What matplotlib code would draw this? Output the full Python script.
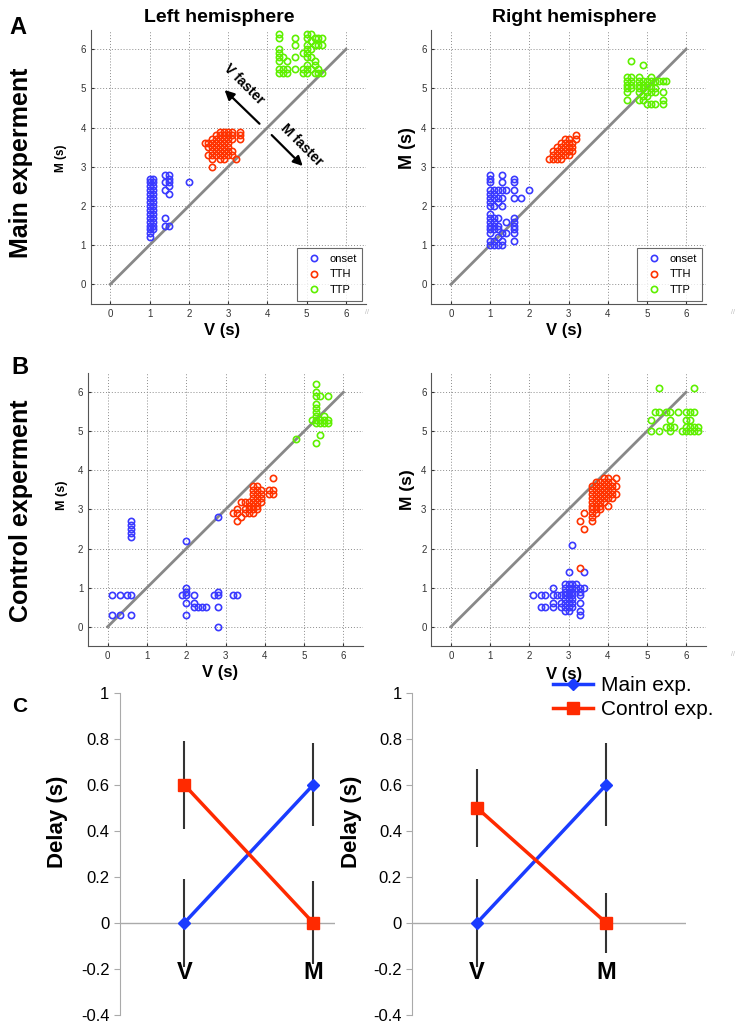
import numpy as np
import matplotlib
matplotlib.use('Agg')
from matplotlib import pyplot as plt

plt.rcParams['font.family'] = ['Liberation Sans', 'DejaVu Sans']

# scatter clusters: key = V latency (s), values = M latencies (s) at that V
# A, left hemisphere
a_left_onset = {1.0: [1.2, 1.3, 1.4, 1.5, 1.6, 1.7, 1.8, 1.9, 2.0, 2.1, 2.2, 2.3, 2.4, 2.5, 2.6, 2.7],
                1.1: [1.4, 1.5, 1.6, 1.7, 1.8, 1.9, 2.0, 2.1, 2.2, 2.3, 2.4, 2.5, 2.6, 2.7],
                1.4: [1.5, 1.7, 2.4, 2.6, 2.8],
                1.5: [1.5, 2.3, 2.5, 2.6, 2.7, 2.8],
                2.0: [2.6]}
a_left_tth = {2.4: [3.6],
              2.5: [3.3, 3.5, 3.6],
              2.6: [3.0, 3.2, 3.3, 3.4, 3.5, 3.6, 3.7],
              2.7: [3.3, 3.4, 3.5, 3.6, 3.7, 3.8],
              2.8: [3.2, 3.3, 3.4, 3.5, 3.6, 3.7, 3.8, 3.9],
              2.9: [3.2, 3.3, 3.4, 3.5, 3.6, 3.7, 3.8, 3.9],
              3.0: [3.3, 3.4, 3.5, 3.6, 3.7, 3.8, 3.9],
              3.1: [3.3, 3.4, 3.7, 3.8, 3.9],
              3.2: [3.2],
              3.3: [3.7, 3.8, 3.9]}
a_left_ttp = {4.3: [5.4, 5.5, 5.7, 5.8, 5.9, 6.0, 6.3, 6.4],
              4.4: [5.4, 5.5, 5.8],
              4.5: [5.4, 5.5, 5.7],
              4.7: [5.5, 5.8, 6.1, 6.3],
              4.9: [5.4, 5.5, 5.9],
              5.0: [5.4, 5.5, 5.6, 5.8, 5.9, 6.0, 6.1, 6.3, 6.4],
              5.1: [5.5, 5.8, 6.0, 6.2, 6.4],
              5.2: [5.4, 5.6, 5.7, 6.1, 6.3],
              5.3: [5.4, 5.5, 6.1, 6.3],
              5.4: [5.4, 6.1, 6.3]}

# A, right hemisphere
a_right_onset = {1.0: [1.0, 1.1, 1.3, 1.4, 1.5, 1.6, 1.7, 1.8, 2.0, 2.1, 2.2, 2.3, 2.4, 2.6, 2.7, 2.8],
                 1.1: [1.0, 1.1, 1.4, 1.5, 1.6, 1.7, 2.0, 2.2, 2.3, 2.4],
                 1.2: [1.0, 1.2, 1.4, 1.5, 1.7, 2.1, 2.2, 2.4],
                 1.3: [1.0, 1.1, 1.3, 2.0, 2.2, 2.4, 2.6, 2.8],
                 1.4: [1.3, 1.6, 2.4],
                 1.6: [1.1, 1.3, 1.4, 1.5, 1.6, 1.7, 2.2, 2.4, 2.6, 2.7],
                 1.8: [2.2],
                 2.0: [2.4]}
a_right_tth = {2.5: [3.2],
               2.6: [3.2, 3.3, 3.4],
               2.7: [3.2, 3.3, 3.4, 3.5],
               2.8: [3.2, 3.3, 3.4, 3.5, 3.6],
               2.9: [3.3, 3.4, 3.5, 3.6, 3.7],
               3.0: [3.3, 3.4, 3.5, 3.6, 3.7],
               3.1: [3.4, 3.5, 3.6],
               3.2: [3.7, 3.8]}
a_right_ttp = {4.5: [4.7, 4.9, 5.0, 5.1, 5.2, 5.3],
               4.6: [5.0, 5.1, 5.2, 5.3, 5.7],
               4.8: [4.7, 4.9, 5.0, 5.1, 5.2, 5.3],
               4.9: [4.7, 4.8, 5.0, 5.1, 5.2, 5.6],
               5.0: [4.6, 4.8, 4.9, 5.1, 5.2],
               5.1: [4.6, 4.9, 5.0, 5.2, 5.3],
               5.2: [4.6, 4.9, 5.0, 5.2],
               5.3: [5.2],
               5.4: [4.6, 4.7, 4.9, 5.2],
               5.5: [5.2]}

# B, left hemisphere
b_left_onset = {0.1: [0.3, 0.8],
                0.3: [0.3, 0.8],
                0.5: [0.8],
                0.6: [0.3, 0.8, 2.3, 2.4, 2.5, 2.6, 2.7],
                1.9: [0.8],
                2.0: [0.3, 0.6, 0.8, 0.9, 1.0, 2.2],
                2.2: [0.5, 0.6, 0.8],
                2.3: [0.5],
                2.4: [0.5],
                2.5: [0.5],
                2.7: [0.8],
                2.8: [0.0, 0.5, 0.8, 0.9, 2.8],
                3.2: [0.8],
                3.3: [0.8]}
b_left_tth = {3.2: [2.9],
              3.3: [2.7, 2.9, 3.0],
              3.4: [2.8, 3.2],
              3.5: [2.9, 3.0, 3.2],
              3.6: [2.9, 3.0, 3.1, 3.2],
              3.7: [2.9, 3.0, 3.1, 3.2, 3.3, 3.4, 3.5, 3.6],
              3.8: [3.0, 3.1, 3.2, 3.3, 3.4, 3.5, 3.6],
              3.9: [3.2, 3.3, 3.4, 3.5],
              4.1: [3.4, 3.5],
              4.2: [3.4, 3.5, 3.8]}
b_left_ttp = {4.8: [4.8],
              5.2: [5.3],
              5.3: [4.7, 5.2, 5.3, 5.4, 5.5, 5.6, 5.7, 5.9, 6.0, 6.2],
              5.4: [4.9, 5.2, 5.3, 5.9],
              5.5: [5.2, 5.3, 5.4],
              5.6: [5.2, 5.3, 5.9]}

# B, right hemisphere
b_right_onset = {2.1: [0.8],
                 2.3: [0.5, 0.8],
                 2.4: [0.5, 0.8],
                 2.6: [0.5, 0.6, 0.8, 1.0],
                 2.7: [0.8],
                 2.8: [0.5, 0.6, 0.8],
                 2.9: [0.4, 0.5, 0.6, 0.7, 0.8, 0.9, 1.0, 1.1],
                 3.0: [0.4, 0.5, 0.6, 0.7, 0.8, 0.9, 1.0, 1.1, 1.4],
                 3.1: [0.5, 0.6, 0.7, 0.8, 0.9, 1.0, 1.1, 2.1],
                 3.2: [1.0, 1.1],
                 3.3: [0.3, 0.4, 0.6, 0.8, 0.9, 1.0],
                 3.4: [1.0, 1.4]}
b_right_tth = {3.3: [1.5, 2.7],
               3.4: [2.5, 2.9],
               3.6: [2.7, 2.8, 2.9, 3.0, 3.1, 3.2, 3.3, 3.4, 3.5, 3.6],
               3.7: [2.9, 3.0, 3.1, 3.2, 3.3, 3.4, 3.5, 3.6, 3.7],
               3.8: [3.0, 3.1, 3.2, 3.3, 3.4, 3.5, 3.6, 3.7],
               3.9: [3.2, 3.3, 3.4, 3.5, 3.6, 3.7, 3.8],
               4.0: [3.1, 3.3, 3.4, 3.5, 3.6, 3.7, 3.8],
               4.1: [3.3, 3.4, 3.5, 3.6, 3.7],
               4.2: [3.4, 3.6, 3.8]}
b_right_ttp = {5.1: [5.0, 5.3],
               5.2: [5.5],
               5.3: [5.0, 5.5, 6.1],
               5.5: [5.1, 5.5],
               5.6: [5.0, 5.1, 5.3, 5.5],
               5.7: [5.1],
               5.8: [5.5],
               5.9: [5.0],
               6.0: [5.0, 5.1, 5.3, 5.5],
               6.1: [5.0, 5.1, 5.3, 5.5],
               6.2: [5.0, 5.1, 5.5, 6.1],
               6.3: [5.0, 5.1]}

# C: mean delay and error per condition (V, M)
conds = ['V', 'M']
main_left = [0.0, 0.6]
main_left_err = [0.19, 0.18]
ctrl_left = [0.6, 0.0]
ctrl_left_err = [0.19, 0.18]
main_right = [0.0, 0.6]
main_right_err = [0.19, 0.18]
ctrl_right = [0.5, 0.0]
ctrl_right_err = [0.17, 0.13]

c_blue = '#3a3aff'
c_red = '#ff3300'
c_green = '#5ff000'

W, H = 745, 1031
fig = plt.figure(figsize=(W / 100, H / 100), dpi=100)


def rect(left, right, top, bottom):
    return [left / W, 1 - bottom / H, (right - left) / W, (bottom - top) / H]


def flat(cols):
    xs, ys = [], []
    for x, yl in cols.items():
        for y in yl:
            xs.append(x)
            ys.append(y)
    return xs, ys


def scatter_panel(r, onset, tth, ttp, legend=False):
    ax = fig.add_axes(r)
    ax.set_xlim(-0.5, 6.5)
    ax.set_ylim(-0.5, 6.5)
    ax.set_xticks(range(7))
    ax.set_yticks(range(7))
    ax.grid(True, ls=(0, (1, 2)), color='#8c8c8c', lw=0.7)
    ax.set_axisbelow(True)
    for s in ['top', 'right']:
        ax.spines[s].set_visible(False)
    for s in ['left', 'bottom']:
        ax.spines[s].set_color('#555555')
    ax.tick_params(labelsize=7, colors='#333333', length=2, direction='in')
    ax.plot([0, 6], [0, 6], color='#888888', lw=2, zorder=2)
    for cols, c, lab in [(onset, c_blue, 'onset'), (tth, c_red, 'TTH'), (ttp, c_green, 'TTP')]:
        x, y = flat(cols)
        ax.plot(x, y, 'o', mfc='none', mec=c, ms=4.5, mew=1.2, label=lab, zorder=3)
    if legend:
        lg = ax.legend(loc='lower right', fontsize=8, fancybox=False, borderaxespad=0.3,
                       handletextpad=0.4, labelspacing=0.5, borderpad=0.5)
        lg.get_frame().set_edgecolor('#444444')
        lg.get_frame().set_linewidth(0.8)
    return ax


ax_al = scatter_panel(rect(90.6, 365.6, 29.7, 303.9), a_left_onset, a_left_tth, a_left_ttp, True)
ax_ar = scatter_panel(rect(431.4, 705.6, 29.7, 303.9), a_right_onset, a_right_tth, a_right_ttp, True)
ax_bl = scatter_panel(rect(88.1, 363.0, 372.7, 646.2), b_left_onset, b_left_tth, b_left_ttp)
ax_br = scatter_panel(rect(431.4, 705.6, 372.7, 646.2), b_right_onset, b_right_tth, b_right_ttp)

# arrows in A left
ax_al.annotate('', xy=(2.86, 5.01), xytext=(3.85, 4.05),
               arrowprops=dict(arrowstyle='-|>', color='black', lw=1.6, mutation_scale=14))
ax_al.annotate('', xy=(4.95, 2.97), xytext=(4.06, 3.86),
               arrowprops=dict(arrowstyle='-|>', color='black', lw=1.6, mutation_scale=14))
ax_al.text(3.4, 5.12, 'V faster', rotation=-45, ha='center', va='center', fontsize=10, fontweight='bold')
ax_al.text(4.87, 3.56, 'M faster', rotation=-45, ha='center', va='center', fontsize=10, fontweight='bold')


def delay_panel(r, xmax, main, main_err, ctrl, ctrl_err, ylab_x):
    ax = fig.add_axes(r)
    xs = [1, 2]
    ax.set_xlim(0.5, xmax)
    ax.set_ylim(-0.4, 1.0)
    ax.axhline(0, color='#aaaaaa', lw=1, zorder=1)
    ax.errorbar(xs, main, yerr=main_err, fmt='none', ecolor='#333333', elinewidth=1.5, zorder=2)
    ax.errorbar(xs, ctrl, yerr=ctrl_err, fmt='none', ecolor='#333333', elinewidth=1.5, zorder=2)
    ax.plot(xs, main, '-D', color='#1a3cff', lw=2.5, ms=6, zorder=3, label='Main exp.')
    ax.plot(xs, ctrl, '-s', color='#ff2a00', lw=2.5, ms=9, zorder=4, label='Control exp.')
    for s in ['top', 'right', 'bottom']:
        ax.spines[s].set_visible(False)
    ax.spines['left'].set_color('#aaaaaa')
    ax.set_xticks([])
    ax.set_yticks([-0.4, -0.2, 0, 0.2, 0.4, 0.6, 0.8, 1])
    ax.set_yticklabels(['-0.4', '-0.2', '0', '0.2', '0.4', '0.6', '0.8', '1'])
    ax.tick_params(axis='y', labelsize=12, colors='#aaaaaa', labelcolor='black', length=4)
    for x, lab in zip(xs, conds):
        ax.text(x, -0.215, lab, ha='center', va='center', fontsize=17, fontweight='bold')
    fig.text(ylab_x / W, 1 - 822 / H, 'Delay (s)', rotation=90, ha='center', va='center',
             fontsize=16, fontweight='bold')
    return ax


ax_cl = delay_panel(rect(119.8, 335.2, 692.7, 1015), 2.17, main_left, main_left_err,
                    ctrl_left, ctrl_left_err, 57)
ax_cr = delay_panel(rect(412.3, 686, 692.7, 1015), 2.617, main_right, main_right_err,
                    ctrl_right, ctrl_right_err, 352)
ax_cr.legend(loc='upper left', bbox_to_anchor=(553 / W, 1 - 676 / H), bbox_transform=fig.transFigure,
             frameon=False, fontsize=15, handlelength=1.9, handletextpad=0.4, labelspacing=0.25,
             borderaxespad=0, borderpad=0)


def ft(px, py, s, **kw):
    fig.text(px / W, 1 - py / H, s, ha='center', va='center', **kw)


# titles, axis labels, panel letters
ft(219, 18, 'Left hemisphere', fontsize=14, fontweight='bold')
ft(574, 18, 'Right hemisphere', fontsize=14, fontweight='bold')
ft(21, 163, 'Main experment', rotation=90, fontsize=18, fontweight='bold')
ft(21, 511, 'Control experment', rotation=90, fontsize=18, fontweight='bold')
ft(18, 28, 'A', fontsize=17, fontweight='bold')
ft(20, 367, 'B', fontsize=17, fontweight='bold')
ft(20, 706, 'C', fontsize=15, fontweight='bold')

ft(61, 158, 'M (s)', rotation=90, fontsize=8.5, fontweight='bold')
ft(407, 148, 'M (s)', rotation=90, fontsize=13, fontweight='bold')
ft(62, 495, 'M (s)', rotation=90, fontsize=9, fontweight='bold')
ft(407, 490, 'M (s)', rotation=90, fontsize=12.5, fontweight='bold')
ft(222, 331, 'V (s)', fontsize=12, fontweight='bold')
ft(564, 331, 'V (s)', fontsize=12, fontweight='bold')
ft(220, 672, 'V (s)', fontsize=12, fontweight='bold')
ft(564, 674, 'V (s)', fontsize=12, fontweight='bold')

# little resize-grip marks from the original screenshot
for gx, gy in [(367, 313), (733, 313), (733, 655)]:
    ft(gx, gy, '//', fontsize=5, color='#bbbbbb')

fig.savefig('out.png', dpi=100)
